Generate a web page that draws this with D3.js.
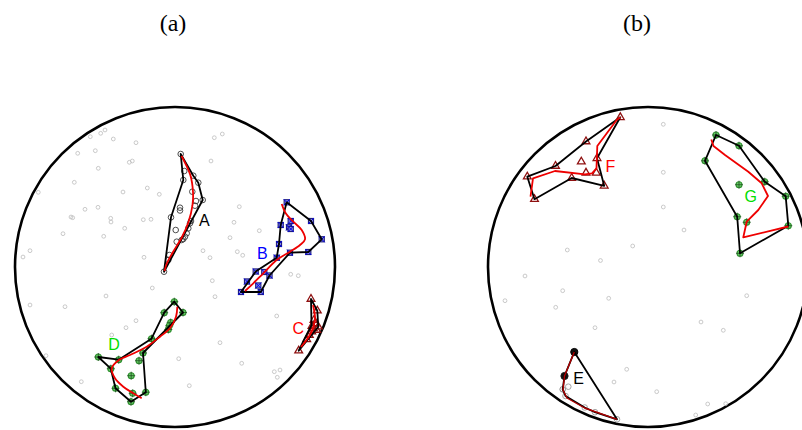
<!DOCTYPE html>
<html>
<head>
<meta charset="utf-8">
<script src="https://cdn.jsdelivr.net/npm/d3@7"></script>
<style>
  html, body { margin: 0; padding: 0; background: #fff; }
  svg { display: block; }
</style>
</head>
<body>
<svg id="chart" width="802" height="430"></svg>
<script>
// Embedding coordinates; each panel shows the disk of radius R.
const R = 16;

// ---------- panel (a) ----------
const bgA = [
  [-8.47,13.03],[-7.43,13.37],[-7.0,13.7],[-6.17,12.8],[-3.9,12.43],[-9.73,11.37],[-7.97,11.63],
  [-4.57,10.47],[-4.27,10.6],[-7.67,9.87],[-10.07,8.47],[-13.67,7.47],[-5.2,7.5],[-2.77,7.9],
  [-1.57,7.27],[3.93,12.93],[4.73,13.3],[3.6,10.6],[-7.7,5.97],[-9.0,5.77],[-10.4,5.0],
  [-10.23,4.93],[-6.43,4.87],[-6.4,4.5],[-3.17,4.73],[-2.4,4.77],[-5.03,3.87],[-11.2,3.33],
  [-7.13,3.07],[6.43,6.03],[5.9,4.47],[8.43,3.63],[5.5,2.93],[2.8,1.63],[3.5,0.93],[6.23,1.53],
  [6.77,1.17],[-3.1,0.97],[-14.5,1.63],[-15.2,1.0],[-14.5,-3.8],[-11.0,-3.97],[-6.9,-2.9],[-2.27,-2.1],
  [3.73,-1.37],[4.0,-2.97],[-3.9,-5.37],[-4.9,-6.07],[-6.33,-6.8],[-12.9,-8.87],[4.5,-7.57],
  [0.37,-9.17],[6.67,-9.63],[10.17,-4.9],[11.57,-0.73],[12.33,-0.87],[9.93,-10.47],[10.5,-10.3],
  [10.23,-11.03],[-9.37,-11.47],[1.43,-11.87]
];

const ptsA = [
  [0.57,11.3],[0.93,9.6],[1.83,9.13],[0.83,8.7],[2.33,8.43],[1.73,7.53],[2.77,6.7],[2.1,6.6],
  [2.0,6.13],[0.5,5.93],[0.5,5.65],[-0.4,4.97],[1.6,4.6],[1.5,4.37],[0.07,3.7],[1.33,3.87],
  [1.17,3.37],[1.0,3.03],[0.83,2.8],[0.17,2.53],[0.67,2.7],[-0.57,1.2],[-0.67,0.7],[-1.1,-0.47]
];
const hullA = [[0.57,11.3],[1.83,9.13],[2.33,8.43],[2.77,6.7],[-1.1,-0.47],[-0.4,4.97],[0.83,8.7]];
const pathA = [[0.65,11.1],[1.53,9.2],[1.8,7.5],[1.75,6.2],[1.35,4.5],[0.7,3.0],[-0.2,1.5],[-0.8,0.4],[-1.05,-0.4]];

const ptsB = [
  [11.17,6.47],[11.57,4.6],[11.4,3.97],[11.57,3.8],[10.57,4.2],[13.6,4.6],[14.67,2.77],[10.4,2.3],
  [11.5,1.43],[13.33,1.5],[10.17,0.93],[8.07,-0.45],[8.93,-0.5],[9.45,-0.85],[7.2,-1.45],
  [8.33,-1.85],[6.6,-2.5],[8.58,-2.5]
];
const hullB = [[11.17,6.47],[13.6,4.6],[14.67,2.77],[13.33,1.5],[11.5,1.43],[9.45,-0.85],[8.58,-2.5],
  [6.6,-2.5],[8.07,-0.45],[10.17,0.93],[10.4,2.3],[10.57,4.2]];
const pathB = [[10.67,6.3],[11.07,5.37],[11.83,4.53],[12.67,3.7],[13.0,2.77],[12.5,2.2],[11.5,1.53],
  [10.17,0.7],[8.83,-0.63],[7.83,-1.63],[7.0,-2.4]];

const ptsC = [
  [13.6,-3.2],[14.23,-4.37],[14.0,-5.63],[13.83,-6.13],[14.17,-6.3],[13.67,-6.47],[13.43,-6.8],
  [13.17,-7.23],[12.37,-8.37],[14.33,-5.97],[13.9,-5.3],[13.7,-5.9]
];
const hullC = [[13.6,-3.2],[14.23,-4.37],[14.33,-5.97],[12.37,-8.37],[13.65,-5.8]];
const pathC = [[13.8,-3.8],[14.0,-5.3],[13.6,-6.6],[12.6,-8.0]];

const ptsD = [
  [-0.07,-3.47],[0.8,-4.55],[-1.08,-4.57],[-0.43,-5.55],[-0.57,-5.88],[-0.67,-6.25],[-2.35,-7.17],
  [-3.2,-8.6],[-3.6,-9.37],[-7.67,-9.0],[-5.63,-9.27],[-6.42,-10.17],[-4.38,-10.87],[-5.95,-12.13],
  [-2.92,-12.52],[-4.23,-12.63],[-4.4,-13.47]
];
const hullD = [[-0.07,-3.47],[0.8,-4.55],[-3.2,-8.6],[-2.92,-12.52],[-4.4,-13.47],[-5.95,-12.13],
  [-6.42,-10.17],[-7.67,-9.0],[-5.63,-9.27],[-2.35,-7.17],[-1.08,-4.57]];
const pathD = [[0.23,-3.97],[0.1,-4.97],[-0.5,-6.13],[-1.5,-6.97],[-2.83,-7.97],[-4.5,-8.8],[-5.6,-9.3],
  [-6.33,-10.13],[-6.0,-11.13],[-5.17,-11.97],[-4.17,-12.63],[-3.33,-13.13]];

// ---------- panel (b) ----------
const bgB = [
  [1.53,14.27],[1.53,9.47],[1.53,6.0],[3.6,3.7],[-1.53,2.1],[-8.07,1.7],[-4.75,0.65],[-12.3,-0.9],
  [-8.53,-2.37],[-14.3,-3.37],[-9.23,-4.03],[-3.93,-3.13],[9.87,-2.87],[-5.3,-6.07],[5.3,-5.5],
  [7.53,-6.33],[-2.13,-10.23],[-3.4,-11.5],[0.87,-12.47],[5.97,-13.7],[7.77,-13.67],[4.77,-14.8]
];

const ptsE = [[-7.37,-8.5],[-8.35,-10.9],[-7.97,-11.97],[-8.53,-12.23],[-8.25,-12.9],[-6.33,-14.05],[-5.3,-14.52],[-3.1,-15.23]];
const weightE = [1, 0.85, 0, 0.2, 0, 0, 0, 0];
const hullE = [[-7.37,-8.5],[-3.1,-15.23],[-5.3,-14.52],[-6.33,-14.05],[-8.25,-12.9],[-8.53,-12.23],[-8.35,-10.9]];
const pathE = [[-7.37,-8.5],[-8.35,-10.9],[-8.5,-12.3],[-8.1,-13.1],[-6.33,-14.1],[-3.1,-15.23]];

const ptsF = [
  [-2.77,14.97],[-6.2,12.55],[-5.1,10.87],[-6.67,10.53],[-9.25,10.1],[-6.2,9.42],[-5.17,9.42],
  [-7.63,8.9],[-12.07,9.03],[-4.38,8.12],[-11.35,6.78]
];
const hullF = [[-2.77,14.97],[-6.2,12.55],[-9.25,10.1],[-12.07,9.03],[-11.35,6.78],[-7.63,8.9],[-4.38,8.12],[-5.1,10.87]];
const pathF = [[-2.75,14.97],[-3.13,14.7],[-5.07,12.1],[-5.15,9.87],[-5.6,9.37],[-6.3,9.27],[-9.3,9.6],[-11.5,8.87],[-11.75,7.03]];

const ptsG = [[6.8,13.2],[9.1,12.13],[5.7,10.62],[11.67,8.53],[9.1,8.23],[13.77,7.07],[8.92,5.03],[9.87,4.47],[14.03,4.13],[9.2,1.37]];
const hullG = [[6.8,13.2],[9.1,12.13],[11.67,8.53],[13.77,7.07],[14.03,4.13],[9.2,1.37],[8.92,5.03],[5.7,10.62]];
const pathG = [[6.33,12.75],[6.55,12.1],[7.7,11.2],[10.03,9.53],[11.37,8.37],[12.0,7.1],[11.03,5.7],[9.87,4.53],[9.53,2.97],[14.03,4.05]];

// label names, positions and colours
const labelsA = [
  {t:"A", p:[2.93,4.63], c:"#000000"},
  {t:"B", p:[8.73,1.37], c:"#0000ff"},
  {t:"C", p:[12.33,-6.1], c:"#ff0000"},
  {t:"D", p:[-6.1,-7.7], c:"#00dd00"}
];
const labelsB = [
  {t:"E", p:[-6.93,-11.17], c:"#000000"},
  {t:"F", p:[-3.77,10.07], c:"#ff0000"},
  {t:"G", p:[10.27,7.1], c:"#00dd00"}
];

const titles = ["(a)", "(b)"];

// ---------- drawing ----------
const svg = d3.select("#chart");

const panels = [
  {cx:175, cy:267, title:titles[0], titleX:173, bg:bgA, labels:labelsA,
   groups:[
     {pts:ptsA, hull:hullA, path:pathA, marker:"circle", smooth:true},
     {pts:ptsB, hull:hullB, path:pathB, marker:"xsquare", smooth:true},
     {pts:ptsC, hull:hullC, path:pathC, marker:"triangle", smooth:true},
     {pts:ptsD, hull:hullD, path:pathD, marker:"crosshair", smooth:true}
   ]},
  {cx:648, cy:267, title:titles[1], titleX:637, bg:bgB, labels:labelsB,
   groups:[
     {pts:ptsE, hull:hullE, path:pathE, marker:"shade", smooth:false, pathColor:"#b00000", pathWidth:1.4},
     {pts:ptsF, hull:hullF, path:pathF, marker:"triangle", smooth:false},
     {pts:ptsG, hull:hullG, path:pathG, marker:"crosshair", smooth:false}
   ]}
];

const pixR = 160;

panels.forEach(P => {
  const x = d3.scaleLinear().domain([-R, R]).range([P.cx - pixR, P.cx + pixR]);
  const y = d3.scaleLinear().domain([-R, R]).range([P.cy + pixR, P.cy - pixR]);
  const g = svg.append("g");

  g.append("text")
    .attr("x", P.titleX).attr("y", 31)
    .attr("text-anchor", "middle")
    .style("font-family", "'Liberation Serif','Times New Roman',serif")
    .style("font-size", "24px")
    .text(P.title);

  g.append("circle")
    .attr("cx", x(0)).attr("cy", y(0))
    .attr("r", x(R) - x(0))
    .attr("fill", "none").attr("stroke", "#000").attr("stroke-width", 2.6);

  g.append("g").selectAll("circle").data(P.bg).join("circle")
    .attr("cx", d => x(d[0])).attr("cy", d => y(d[1])).attr("r", 1.9)
    .attr("fill", "none").attr("stroke", "#bdbdbd").attr("stroke-width", 0.8);

  const hullLine = d3.line().x(d => x(d[0])).y(d => y(d[1])).curve(d3.curveLinearClosed);

  P.groups.forEach(G => {
    const mg = g.append("g");
    const sel = mg.selectAll("g").data(G.pts).join("g")
      .attr("transform", d => `translate(${x(d[0])},${y(d[1])})`);
    if (G.marker === "circle") {
      sel.append("circle").attr("r", 2.8).attr("fill", "none").attr("stroke", "#3a3a3a").attr("stroke-width", 0.9);
    } else if (G.marker === "shade") {
      sel.append("circle")
        .attr("r", (d, i) => weightE[i] > 0.5 ? 3.6 : 2.8)
        .attr("fill", (d, i) => weightE[i] > 0.5 ? "#111" : "none")
        .attr("stroke", (d, i) => d3.interpolateGreys(0.45 + 0.55 * weightE[i]))
        .attr("stroke-width", 1);
    } else if (G.marker === "xsquare") {
      sel.append("rect").attr("x", -2.6).attr("y", -2.6).attr("width", 5.2).attr("height", 5.2)
        .attr("fill", "#8888dd").attr("stroke", "#101070").attr("stroke-width", 1);
      sel.append("path").attr("d", "M-3,-3L3,3M-3,3L3,-3").attr("stroke", "#0000ee").attr("stroke-width", 1);
    } else if (G.marker === "triangle") {
      sel.append("path").attr("d", d3.symbol(d3.symbolTriangle, 26)())
        .attr("fill", "none").attr("stroke", "#8f1010").attr("stroke-width", 1.3);
    } else if (G.marker === "crosshair") {
      sel.append("circle").attr("r", 3).attr("fill", "#66cc66").attr("stroke", "#2f8f2f").attr("stroke-width", 1.1);
      sel.append("path").attr("d", "M-4,0L4,0M0,-4L0,4").attr("stroke", "#1f4f1f").attr("stroke-width", 0.8);
    }

    g.append("path").datum(G.hull)
      .attr("d", hullLine)
      .attr("fill", "none").attr("stroke", "#000").attr("stroke-width", 1.8)
      .attr("stroke-linejoin", "round");

    const pl = d3.line().x(d => x(d[0])).y(d => y(d[1]))
      .curve(G.smooth ? d3.curveCatmullRom.alpha(0.5) : d3.curveLinear);
    g.append("path").datum(G.path)
      .attr("d", pl)
      .attr("fill", "none").attr("stroke", G.pathColor || "#ee0000")
      .attr("stroke-width", G.pathWidth || 1.8).attr("stroke-linejoin", "round");
  });

  g.append("g").selectAll("text").data(P.labels).join("text")
    .attr("x", d => x(d.p[0])).attr("y", d => y(d.p[1]))
    .attr("text-anchor", "middle").attr("dominant-baseline", "central")
    .style("font-family", "'Liberation Sans',Arial,sans-serif")
    .style("font-size", "16px")
    .attr("fill", d => d.c)
    .text(d => d.t);
});
</script>
</body>
</html>
